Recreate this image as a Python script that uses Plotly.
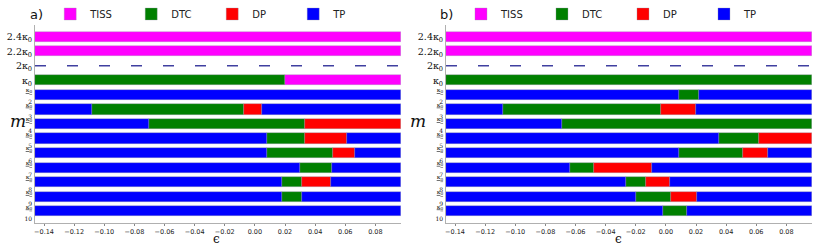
import plotly.graph_objects as go

# ---------------- data ----------------
ROW_LABELS = ["2.4κ0", "2.2κ0", "2κ0", "κ0", "κ0/2", "κ0/3", "κ0/4",
              "κ0/5", "κ0/6", "κ0/7", "κ0/8", "κ0/9", "κ0/10"]
EPS_MIN = -0.146
EPS_MAX = 0.097
X_TICKS = [-0.14, -0.12, -0.10, -0.08, -0.06, -0.04, -0.02, 0.00, 0.02, 0.04, 0.06, 0.08]
PHASES = ["TISS", "DTC", "DP", "TP"]
PHASE_COLORS = {"TISS": "#ff00ff", "DTC": "#008000", "DP": "#ff0000", "TP": "#0000ff"}
DASHED_ROW = "2κ0"

# phase sequence per row (left to right) and the eps values where it changes
left_phases = [["TISS"], ["TISS"], [], ["DTC", "TISS"], ["TP"],
               ["TP", "DTC", "DP", "TP"], ["TP", "DTC", "DP"],
               ["TP", "DTC", "DP", "TP"], ["TP", "DTC", "DP", "TP"],
               ["TP", "DTC", "TP"], ["TP", "DTC", "DP", "TP"],
               ["TP", "DTC", "TP"], ["TP"]]
left_breaks = [[], [], [], [0.020], [],
               [-0.108, -0.007, 0.005], [-0.070, 0.0335],
               [0.008, 0.0335, 0.061], [0.008, 0.052, 0.0667],
               [0.030, 0.051], [0.018, 0.0315, 0.0505],
               [0.018, 0.0315], []]

right_phases = [["TISS"], ["TISS"], [], ["DTC"], ["TP", "DTC", "TP"],
                ["TP", "DTC", "DP", "TP"], ["TP", "DTC"],
                ["TP", "DTC", "DP"], ["TP", "DTC", "DP", "TP"],
                ["TP", "DTC", "DP", "TP"], ["TP", "DTC", "DP", "TP"],
                ["TP", "DTC", "DP", "TP"], ["TP", "DTC", "TP"]]
right_breaks = [[], [], [], [], [0.009, 0.022],
                [-0.108, -0.003, 0.020], [-0.069],
                [0.035, 0.062], [0.009, 0.051, 0.068],
                [-0.064, -0.048, -0.009], [-0.0265, -0.0134, 0.0027],
                [-0.0196, 0.0034, 0.0204], [-0.0017, 0.0138]]

# ---------------- figure ----------------
W, H = 830, 248
fig = go.Figure()


def tick_text(lbl):
    if "/" in lbl:
        num, den = lbl.split("/")
        return ('<span style="font-size:6px"><u>κ<sub>0</sub></u><br>%s</span>' % den)
    if lbl.endswith("κ0"):
        pre = lbl[:-2]
        return "%sκ<sub>0</sub>" % pre
    return lbl


def add_panel(phases, breaks, xaxis, yaxis, legend):
    segs = {p: ([], [], []) for p in PHASES}
    for i, (ph, br) in enumerate(zip(phases, breaks)):
        edges = [EPS_MIN] + list(br) + [EPS_MAX]
        for k, p in enumerate(ph):
            segs[p][0].append(i)
            segs[p][1].append(edges[k])
            segs[p][2].append(edges[k + 1] - edges[k])
    for p in PHASES:
        ys, bases, lens = segs[p]
        fig.add_trace(go.Bar(
            y=ys, x=lens, base=bases, orientation="h", name=p,
            marker=dict(color=PHASE_COLORS[p],
                        line=dict(color="rgba(150,150,170,0.55)", width=0.6)),
            width=0.7, xaxis=xaxis, yaxis=yaxis, legend=legend,
            showlegend=True))
    drow = ROW_LABELS.index(DASHED_ROW)
    fig.add_trace(go.Scatter(
        x=[EPS_MIN, EPS_MAX], y=[drow, drow], mode="lines",
        line=dict(color="#4040a0", width=1.3, dash="11px,21px"),
        xaxis=xaxis, yaxis=yaxis, showlegend=False, hoverinfo="skip"))


add_panel(left_phases, left_breaks, "x", "y", "legend")
add_panel(right_phases, right_breaks, "x2", "y2", "legend2")

L1, R1 = 35 / W, 401 / W
L2, R2 = 446 / W, 812 / W

xcommon = dict(range=[EPS_MIN, EPS_MAX], tickvals=X_TICKS,
               ticktext=["−%.2f" % abs(v) if v < 0 else "%.2f" % v for v in X_TICKS],
               showgrid=False, zeroline=False, showline=True, linecolor="#b0b0b0",
               linewidth=1, ticks="outside", ticklen=2, tickcolor="#888",
               automargin=False,
               tickfont=dict(family="DejaVu Sans", size=6.5, color="#222"))
ycommon = dict(range=[len(ROW_LABELS) - 0.2, -0.8],
               tickvals=list(range(len(ROW_LABELS))),
               ticktext=[tick_text(l) for l in ROW_LABELS],
               showgrid=False, zeroline=False, showline=True, linecolor="#b0b0b0",
               linewidth=1, ticks="", ticklen=0, automargin=False,
               tickfont=dict(family="DejaVu Serif", size=9.5, color="#111"))

LEG_Y = 1.0 + (25 - 14) / 198
fig.update_layout(
    width=W, height=H,
    margin=dict(l=0, r=0, t=25, b=25, autoexpand=False),
    paper_bgcolor="white", plot_bgcolor="white",
    barmode="overlay", bargap=0,
    xaxis=dict(domain=[L1, R1], anchor="y", **xcommon),
    yaxis=dict(domain=[0, 1], anchor="x", **ycommon),
    xaxis2=dict(domain=[L2, R2], anchor="y2", **xcommon),
    yaxis2=dict(domain=[0, 1], anchor="x2", **ycommon),
    legend=dict(orientation="h", x=0.0605, y=LEG_Y, yanchor="middle", xanchor="left",
                font=dict(family="DejaVu Sans", size=10, color="#222"),
                bgcolor="rgba(0,0,0,0)", entrywidth=36, itemwidth=30,
                traceorder="normal"),
    legend2=dict(orientation="h", x=0.5554, y=LEG_Y, yanchor="middle", xanchor="left",
                 font=dict(family="DejaVu Sans", size=10, color="#222"),
                 bgcolor="rgba(0,0,0,0)", entrywidth=36, itemwidth=30,
                 traceorder="normal"),
    showlegend=True,
)

ann = [
    dict(text="a)", x=28 / W, y=1.0, xref="paper", yref="paper", xanchor="left",
         yanchor="bottom", yshift=1, showarrow=False,
         font=dict(family="DejaVu Sans", size=13, color="#111")),
    dict(text="b)", x=438 / W, y=1.0, xref="paper", yref="paper", xanchor="left",
         yanchor="bottom", yshift=1, showarrow=False,
         font=dict(family="DejaVu Sans", size=13, color="#111")),
    dict(text="<i>m</i>", x=8 / W, y=0.5, xref="paper", yref="paper", showarrow=False,
         yshift=3, font=dict(family="DejaVu Serif", size=17, color="#111")),
    dict(text="<i>m</i>", x=418 / W, y=0.5, xref="paper", yref="paper", showarrow=False,
         yshift=3, font=dict(family="DejaVu Serif", size=17, color="#111")),
    dict(text="ϵ", x=212 / W, y=0, xref="paper", yref="paper", yanchor="bottom",
         yshift=-24, showarrow=False, borderpad=0,
         font=dict(family="DejaVu Serif", size=12, color="#111")),
    dict(text="ϵ", x=623 / W, y=0, xref="paper", yref="paper", yanchor="bottom",
         yshift=-24, showarrow=False, borderpad=0,
         font=dict(family="DejaVu Serif", size=12, color="#111")),
]
fig.update_layout(annotations=ann)

fig.write_html("out.html", config={"displayModeBar": False},
               post_script="document.body.style.margin='0';"
                           "document.body.style.overflow='hidden';")
